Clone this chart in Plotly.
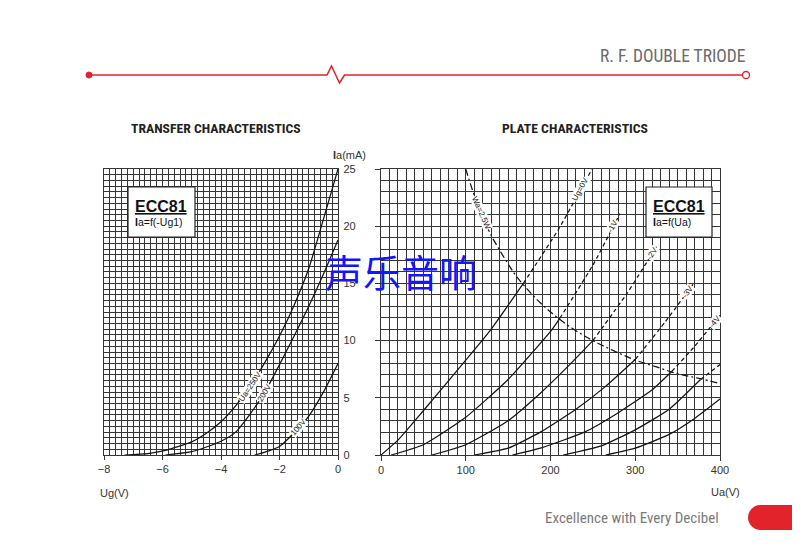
import plotly.graph_objects as go

W, H = 800, 550
OFF = 8  # page body margin compensation
def px(x): return (x - OFF) / W
def py(y): return 1 - (y - OFF) / H

# ---------------- data ----------------
# Transfer characteristics: grid voltage Ug (V) vs anode current Ia (mA)
ug_250 = [-7.3, -6.5, -5.9, -5.0, -4.5, -4.0, -3.5, -3.0, -2.5, -2.0, -1.5, -1.0, -0.5, 0.0]
ia_250 = [0.0, 0.12, 0.4, 1.15, 1.9, 2.9, 4.3, 6.0, 8.1, 10.4, 13.1, 16.3, 20.6, 25.0]
ug_200 = [-5.9, -5.0, -4.5, -4.0, -3.5, -3.0, -2.5, -2.0, -1.5, -1.0, -0.5, 0.0]
ia_200 = [0.0, 0.3, 0.7, 1.2, 2.0, 3.6, 5.5, 7.9, 10.4, 13.0, 15.8, 18.8]
ug_100 = [-2.85, -2.5, -2.0, -1.5, -1.0, -0.5, 0.0]
ia_100 = [0.0, 0.25, 0.75, 1.95, 3.4, 5.5, 8.0]

# Plate characteristics: anode voltage Ua (V) vs anode current Ia (mA)
ua_g0 = [0, 20, 40, 64, 100, 129, 168, 210, 249]
ia_g0 = [0.0, 1.3, 3.0, 5.1, 8.3, 10.9, 15.0, 19.8, 25.0]
ua_g1 = [12, 50, 100, 150, 201, 211, 250, 282]
ia_g1 = [0.0, 0.9, 3.3, 6.6, 10.9, 11.95, 16.6, 21.1]
ua_g2 = [60, 100, 150, 188, 220, 250, 290, 325]
ia_g2 = [0.0, 0.9, 3.0, 5.4, 7.7, 10.0, 14.1, 18.2]
ua_g3 = [110, 150, 188, 230, 265, 300, 335, 369]
ia_g3 = [0.0, 0.6, 2.0, 4.0, 6.0, 8.35, 11.6, 15.0]
ua_g4 = [155, 190, 240, 280, 320, 343, 370, 400]
ia_g4 = [0.0, 0.65, 2.0, 3.7, 5.7, 7.3, 9.5, 12.2]
ua_g5 = [215, 260, 300, 340, 377, 400]
ia_g5 = [0.0, 0.8, 2.2, 4.0, 6.6, 7.9]
ua_g6 = [265, 300, 340, 370, 400]
ia_g6 = [0.0, 0.6, 1.8, 3.2, 4.9]
# anode voltage where each curve crosses the 2.5 W dissipation limit (dashed above)
dash_from = [168, 211, 250, 300, 343, 377, None]

# Max anode dissipation Wa = 2.5 W
ua_wa = [100, 110, 120, 130, 140, 150, 160, 180, 200, 225, 250, 275, 300, 325, 350, 375, 400]
ia_wa = [25.0, 22.7, 20.8, 19.2, 17.9, 16.7, 15.6, 13.9, 12.5, 11.1, 10.0, 9.1, 8.3, 7.7, 7.1, 6.7, 6.25]

left_ticks = [-8, -6, -4, -2, 0]
right_ticks = [0, 100, 200, 300, 400]
ia_ticks = [0, 5, 10, 15, 20, 25]

# ---------------- figure ----------------
fig = go.Figure()
LC = "#141414"
LW = 1.25

for xs, ys in [(ug_250, ia_250), (ug_200, ia_200), (ug_100, ia_100)]:
    fig.add_trace(go.Scatter(x=xs, y=ys, mode="lines", line=dict(color=LC, width=LW, shape="spline", smoothing=0.6),
                             xaxis="x", yaxis="y", hoverinfo="skip"))

plate = [(ua_g0, ia_g0), (ua_g1, ia_g1), (ua_g2, ia_g2), (ua_g3, ia_g3),
         (ua_g4, ia_g4), (ua_g5, ia_g5), (ua_g6, ia_g6)]
for (xs, ys), d in zip(plate, dash_from):
    if d is None:
        sx, sy, dx, dy = xs, ys, [], []
    else:
        sx = [a for a in xs if a <= d]; sy = [b for a, b in zip(xs, ys) if a <= d]
        dx = [a for a in xs if a >= d]; dy = [b for a, b in zip(xs, ys) if a >= d]
    fig.add_trace(go.Scatter(x=sx, y=sy, mode="lines", line=dict(color=LC, width=LW, shape="spline", smoothing=0.5),
                             xaxis="x2", yaxis="y2", hoverinfo="skip"))
    if dx:
        fig.add_trace(go.Scatter(x=dx, y=dy, mode="lines",
                                 line=dict(color=LC, width=LW, dash="4px,3px", shape="spline", smoothing=0.5),
                                 xaxis="x2", yaxis="y2", hoverinfo="skip"))

fig.add_trace(go.Scatter(x=ua_wa, y=ia_wa, mode="lines",
                         line=dict(color=LC, width=LW, dash="7px,3px,2px,3px", shape="spline"),
                         xaxis="x2", yaxis="y2", hoverinfo="skip"))

GC = "#353535"
GW = 1.45
tf = dict(family="Liberation Sans, Arial, sans-serif", size=11, color="#333")
ydom = [py(455), py(169)]
common = dict(showgrid=True, gridcolor=GC, gridwidth=GW, zeroline=False, showline=True, mirror=True,
              linecolor=GC, linewidth=GW, tickfont=tf, fixedrange=True, tickcolor=GC, automargin=False)

fig.update_layout(
    width=W, height=H, autosize=False, margin=dict(l=0, r=0, t=0, b=0, pad=0, autoexpand=False),
    paper_bgcolor="white", plot_bgcolor="white", showlegend=False,
    xaxis=dict(domain=[px(104), px(338)], range=[-8, 0], tickvals=left_ticks, ticks="outside", ticklen=4,
               minor=dict(dtick=0.2, tick0=-8, showgrid=True, gridcolor=GC, gridwidth=GW), anchor="y", **common),
    yaxis=dict(domain=ydom, range=[0, 25], tickvals=ia_ticks, side="right", ticks="", ticklabelstandoff=2,
               minor=dict(dtick=0.5, tick0=0, showgrid=True, gridcolor=GC, gridwidth=GW), anchor="x", **common),
    xaxis2=dict(domain=[px(381), px(720)], range=[0, 400], tickvals=right_ticks, ticks="outside", ticklen=5,
                minor=dict(dtick=10, tick0=0, showgrid=True, gridcolor=GC, gridwidth=GW), anchor="y2", **common),
    yaxis2=dict(domain=ydom, range=[0, 25], tickvals=ia_ticks, side="left", ticks="outside", ticklen=5,
                showticklabels=False,
                minor=dict(dtick=1, tick0=0, showgrid=True, gridcolor=GC, gridwidth=GW), anchor="x2", **common),
)

ann = []
def A(text, x, y, size=11, color="#333", family="Liberation Sans, Arial, sans-serif", xanchor="center",
      yanchor="middle", xref="paper", yref="paper", angle=0, bg=None, pad=0):
    d = dict(text=text, x=x, y=y, xref=xref, yref=yref, showarrow=False, xanchor=xanchor, yanchor=yanchor,
             textangle=angle, font=dict(size=size, color=color, family=family), borderpad=pad)
    if bg:
        d["bgcolor"] = bg
    ann.append(d)

COND = "Liberation Sans Narrow, Roboto Condensed, Roboto, sans-serif"
# header / footer texts
A("R. F. DOUBLE TRIODE", px(747), py(56), size=17.5, color="#6b6b6b", family=COND, xanchor="right")
A("<b>TRANSFER CHARACTERISTICS</b>", px(130), py(128), size=13.7, color="#222", family=COND, xanchor="left")
A("<b>PLATE CHARACTERISTICS</b>", px(501), py(128), size=13.7, color="#222", family=COND, xanchor="left")
A("Excellence with Every Decibel", px(544), py(518), size=15, color="#7a7a7a", family=COND, xanchor="left")
A("Ug(V)", px(99), py(493), size=11, xanchor="left")
A("Ua(V)", px(741), py(492), size=11, xanchor="right")
A("<b>I</b>a(mA)", px(332), py(155), size=11, xanchor="left")

# ECC81 boxes
A("<b><u>ECC81</u></b>", px(134), py(206), size=16, color="#111", xanchor="left")
A("<b>I</b>a=f(-Ug1)", px(134), py(222), size=10.5, color="#111", xanchor="left")
A("<b><u>ECC81</u></b>", px(652), py(206), size=16, color="#111", xanchor="left")
A("<b>I</b>a=f(Ua)", px(652), py(222), size=10.5, color="#111", xanchor="left")

# curve labels (transfer)
A("Ua=250V", -3.0, 6.0, size=8, color="#111", xref="x", yref="y", angle=-56, bg="white")
A("200V", -2.53, 5.4, size=8, color="#111", xref="x", yref="y", angle=-59, bg="white")
A("100V", -1.36, 2.4, size=8, color="#111", xref="x", yref="y", angle=-49, bg="white")
# curve labels (plate)
A("Wa=2.5W", 118, 21.2, size=8, color="#111", xref="x2", yref="y2", angle=66, bg="white")
A("Ug=0V", 235, 23.2, size=8, color="#111", xref="x2", yref="y2", angle=-61, bg="white")
A("-1V", 273, 20.0, size=8, color="#111", xref="x2", yref="y2", angle=-62, bg="white")
A("-2V", 320, 17.6, size=8, color="#111", xref="x2", yref="y2", angle=-58, bg="white")
A("-3V", 362, 14.3, size=8, color="#111", xref="x2", yref="y2", angle=-54, bg="white")
A("-4V", 394, 11.7, size=8, color="#111", xref="x2", yref="y2", angle=-50, bg="white")
A("-5V", 404, 7.9, size=8, color="#111", xref="x2", yref="y2", xanchor="left")
A("-6V", 404, 4.9, size=8, color="#111", xref="x2", yref="y2", xanchor="left")

# watermark
A("声乐音响", px(401), py(270), size=38, color="#1414ff", family="Noto Sans CJK SC, sans-serif")

shapes = []
def P(points):
    s = ""
    for cmd, pts in points:
        s += cmd + " ".join(f"{px(a):.5f},{py(b):.5f}" for a, b in pts) + " "
    return s

RED = "#e3232b"
shapes.append(dict(type="path", xref="paper", yref="paper",
                   path=P([("M", [(89, 75)]), ("L", [(327, 75)]), ("L", [(331.5, 66)]), ("L", [(339.5, 83)]),
                           ("L", [(344.5, 75)]), ("L", [(742.5, 75)])]),
                   line=dict(color=RED, width=1.5)))
shapes.append(dict(type="circle", xref="paper", yref="paper", x0=px(86), x1=px(92), y0=py(78), y1=py(72),
                   fillcolor=RED, line=dict(color=RED, width=1)))
shapes.append(dict(type="circle", xref="paper", yref="paper", x0=px(742.5), x1=px(749.5), y0=py(78.5), y1=py(71.5),
                   fillcolor="white", line=dict(color=RED, width=1.3)))
# footer pill
shapes.append(dict(type="path", xref="paper", yref="paper",
                   path=P([("M", [(760.5, 505)]), ("L", [(808, 505)]), ("L", [(808, 530)]), ("L", [(760.5, 530)]),
                           ("C", [(753.6, 530), (748, 524.4), (748, 517.5)]),
                           ("C", [(748, 510.6), (753.6, 505), (760.5, 505)])]) + "Z",
                   fillcolor=RED, line=dict(color=RED, width=0)))
# ECC81 boxes
for x0, x1 in [(128, 195), (646, 712)]:
    shapes.append(dict(type="rect", xref="paper", yref="paper", x0=px(x0), x1=px(x1), y0=py(237), y1=py(187),
                       fillcolor="white", line=dict(color="#222", width=1.2), layer="above"))

fig.update_layout(annotations=ann, shapes=shapes)
fig.write_html("out.html", config={"responsive": False})
